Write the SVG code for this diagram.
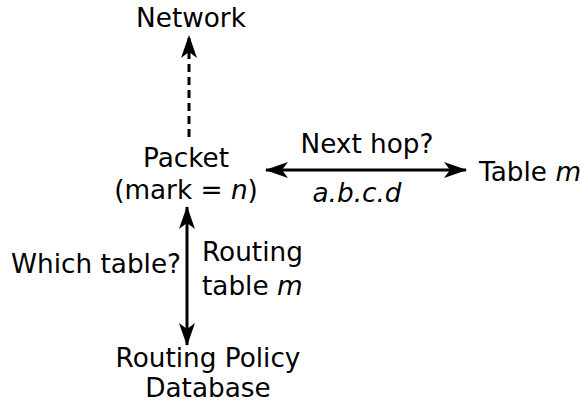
<svg xmlns="http://www.w3.org/2000/svg" width="580" height="406" viewBox="0 0 580 406">
  <style>
    text { font-family: "DejaVu Sans", "Liberation Sans", sans-serif; font-size: 26.3px; fill: #000; }
    .mid { text-anchor: middle; }
    .it { font-style: italic; }
    .line { stroke: #000; stroke-width: 3; fill: none; }
    .dash { stroke-dasharray: 8 5; }
  </style>
  <defs>
    <marker id="head" markerUnits="userSpaceOnUse" markerWidth="26" markerHeight="20" viewBox="-24 -10 26 20" refX="0" refY="0" orient="auto-start-reverse">
      <path d="M1,0 L-22,-8 L-16,0 L-22,8 Z" fill="#000"/>
    </marker>
  </defs>

  <!-- connectors -->
  <g id="connectors">
    <line class="line dash" x1="189" y1="137" x2="189" y2="36" marker-end="url(#head)"/>
    <line class="line" x1="266" y1="170" x2="466" y2="170" marker-start="url(#head)" marker-end="url(#head)"/>
    <line class="line" x1="187" y1="207" x2="187" y2="345" marker-start="url(#head)" marker-end="url(#head)"/>
  </g>

  <g id="network">
    <text class="mid" x="191" y="27">Network</text>
  </g>

  <g id="packet">
    <text class="mid" x="186" y="167">Packet</text>
    <text class="mid" x="186" y="199">(mark = <tspan class="it">n</tspan>)</text>
  </g>

  <g id="table">
    <text x="479" y="181">Table <tspan class="it">m</tspan></text>
  </g>

  <g id="rpdb">
    <text class="mid" x="208" y="367">Routing Policy</text>
    <text class="mid" x="208" y="397">Database</text>
  </g>

  <!-- edge labels -->
  <g id="labels">
    <text class="mid" x="367" y="153">Next hop?</text>
    <text class="mid it" x="357" y="202">a.b.c.d</text>
    <text x="11" y="273">Which table?</text>
    <text x="202" y="261">Routing</text>
    <text x="202" y="295">table <tspan class="it">m</tspan></text>
  </g>
</svg>
